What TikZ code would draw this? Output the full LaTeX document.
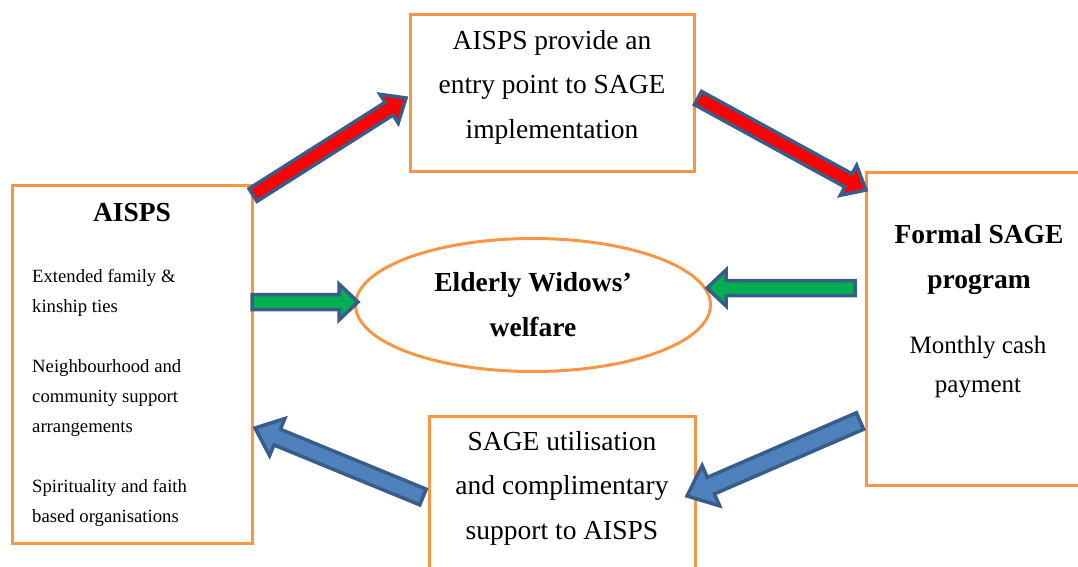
\documentclass[tikz,border=0pt]{standalone}
\usepackage{fontspec}
\setmainfont{Liberation Serif}
\usetikzlibrary{calc,shapes.geometric}

\definecolor{frameorange}{HTML}{F79646}
\definecolor{arrowedge}{HTML}{385D8A}
\definecolor{shaftred}{HTML}{FF0000}
\definecolor{shaftgreen}{HTML}{00B050}
\definecolor{shaftblue}{HTML}{4F81BD}

\tikzset{
  frame/.style={draw=frameorange, line width=3pt, inner sep=0pt},
  bigtext/.style={align=center, inner sep=0pt, font=\fontsize{27.5}{44.5}\selectfont},
  bigbold/.style={align=center, inner sep=0pt, font=\fontsize{27.5}{45}\selectfont\bfseries},
  smalltext/.style={anchor=west, align=left, inner sep=0pt, font=\fontsize{18.7}{30}\selectfont},
  arrowline/.style={draw=arrowedge, line width=3.5pt}
}

% block arrow: fill, from, to, half shaft, half head, head length
\newcommand{\blockarrow}[6]{%
  \draw[arrowline, fill=#1]
    ($(#2)!#4!90:(#3)$) -- ($(#3)!#6!(#2)!#4!90:(#3)$) -- ($(#3)!#6!(#2)!#5!90:(#3)$)
    -- (#3) -- ($(#3)!#6!(#2)!#5!-90:(#3)$) -- ($(#3)!#6!(#2)!#4!-90:(#3)$)
    -- ($(#2)!#4!-90:(#3)$) -- cycle;
}

\begin{document}
\begin{tikzpicture}[x=1pt,y=-1pt]
		\useasboundingbox (0,0) rectangle (1078,567);
		% boxes
		\node[frame, minimum width=284pt, minimum height=156pt] (entry) at (552,93) {};
		\node[frame, minimum width=240pt, minimum height=358pt] (aisps) at (132,364) {};
		\node[frame, minimum width=224pt, minimum height=313pt] (formal) at (978,329) {};
		\node[frame, minimum width=266pt, minimum height=163pt] (use) at (562,498) {};
		\node[frame, ellipse, minimum width=355pt, minimum height=133pt, bigbold] (welfare) at (533,305) {Elderly Widows'\\welfare};
		% texts
		\node[bigtext] (entrytxt) at (552,87) {AISPS provide an\\entry point to SAGE\\implementation};
		\node[bigtext] (usetxt) at (562,488) {SAGE utilisation\\and complimentary\\support to AISPS};
		\node[bigbold] (formaltxt) at (979,259) {Formal SAGE\\program};
		\node[bigtext, font=\fontsize{25}{39}\selectfont] (cashtxt) at (978,367) {Monthly cash\\payment};
		\node[bigbold] (aispstxt) at (132,213) {AISPS};
		\node[smalltext] (kin) at (32,293) {Extended family \&\\kinship ties};
		\node[smalltext] (nbh) at (32,398) {Neighbourhood and\\community support\\arrangements};
		\node[smalltext] (faith) at (32,503) {Spirituality and faith\\based organisations};
		% arrow ends
		\coordinate (r1a) at (253,195); \coordinate (r1b) at (406,98);
		\coordinate (r2a) at (698,98); \coordinate (r2b) at (866,190);
		\coordinate (g1a) at (252,302); \coordinate (g1b) at (358,302);
		\coordinate (g2a) at (855,288); \coordinate (g2b) at (707,288);
		\coordinate (b1a) at (860,421); \coordinate (b1b) at (687,496);
		\coordinate (b2a) at (423,497); \coordinate (b2b) at (255,428);
		% arrows
		\blockarrow{shaftred}{r1a}{r1b}{7.5pt}{17pt}{20pt}
		\blockarrow{shaftred}{r2a}{r2b}{7.5pt}{17pt}{20pt}
		\blockarrow{shaftgreen}{g1a}{g1b}{7.5pt}{18pt}{19pt}
		\blockarrow{shaftgreen}{g2a}{g2b}{7.5pt}{18pt}{19pt}
		\blockarrow{shaftblue}{b1a}{b1b}{9pt}{22pt}{26pt}
		\blockarrow{shaftblue}{b2a}{b2b}{8.5pt}{20pt}{24pt}
	\end{tikzpicture}
\end{document}
